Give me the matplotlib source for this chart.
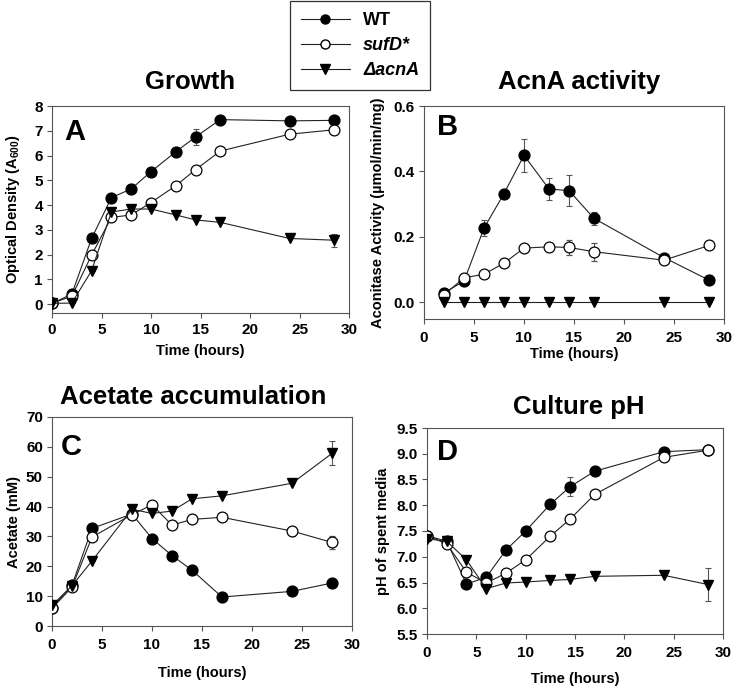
import matplotlib
matplotlib.use("Agg")
import matplotlib.pyplot as plt
from matplotlib.lines import Line2D

plt.rcParams['font.family'] = ['Liberation Sans', 'DejaVu Sans']
plt.rcParams['font.weight'] = 'bold'
plt.rcParams['mathtext.fontset'] = 'custom'
plt.rcParams['mathtext.bf'] = 'Liberation Sans:bold'
plt.rcParams['mathtext.rm'] = 'Liberation Sans:bold'

# ---------------- data ----------------
series_labels = ["WT", "sufD*", "\u0394acnA"]

# A: Growth (OD600)
tA = [0, 2, 4, 6, 8, 10, 12.5, 14.5, 17, 24, 28.5]
wtA = [0.03, 0.4, 2.65, 4.3, 4.65, 5.35, 6.15, 6.75, 7.45, 7.4, 7.42]
wtA_err = [0, 0, 0.05, 0.1, 0.2, 0.1, 0.1, 0.33, 0.12, 0.08, 0.08]
sufA = [0.04, 0.31, 1.98, 3.5, 3.6, 4.1, 4.78, 5.43, 6.18, 6.86, 7.04]
sufA_err = [0, 0, 0, 0.05, 0.05, 0.05, 0.05, 0.05, 0.12, 0.05, 0.15]
acnA_A = [0.03, 0.04, 1.35, 3.72, 3.84, 3.84, 3.6, 3.4, 3.3, 2.65, 2.58]
acnA_A_err = [0, 0, 0, 0, 0, 0, 0, 0, 0, 0, 0.27]

# B: AcnA activity
tB = [2, 4, 6, 8, 10, 12.5, 14.5, 17, 24, 28.5]
wtB = [0.028, 0.064, 0.226, 0.332, 0.449, 0.346, 0.341, 0.256, 0.136, 0.067]
wtB_err = [0.005, 0.005, 0.025, 0.005, 0.05, 0.035, 0.048, 0.02, 0.012, 0.005]
sufB = [0.022, 0.074, 0.085, 0.119, 0.165, 0.169, 0.167, 0.154, 0.128, 0.173]
sufB_err = [0, 0, 0, 0, 0, 0, 0.022, 0.027, 0, 0]
acnB = [0, 0, 0, 0, 0, 0, 0, 0, 0, 0]
acnB_err = [0, 0, 0, 0, 0, 0, 0, 0, 0, 0]

# C: Acetate (mM)
tC = [0, 2, 4, 8, 10, 12, 14, 17, 24, 28]
wtC = [6.1, 13.6, 32.7, 37.5, 29.3, 23.6, 18.7, 9.7, 11.6, 14.4]
wtC_err = [0, 0, 0, 0, 0, 0, 0, 0, 0, 0]
sufC = [5.9, 13.0, 29.8, 37.3, 40.6, 33.8, 35.7, 36.4, 31.8, 28.0]
sufC_err = [0, 0, 0, 0, 0, 0, 0, 0, 1.5, 2.2]
acnC = [6.9, 13.5, 21.8, 39.1, 37.7, 38.5, 42.6, 43.6, 47.8, 57.8]
acnC_err = [0, 0, 0, 0, 0, 0, 0, 0, 0, 4.0]

# D: Culture pH
tD = [0, 2, 4, 6, 8, 10, 12.5, 14.5, 17, 24, 28.5]
wtD = [7.41, 7.3, 6.47, 6.6, 7.13, 7.5, 8.02, 8.36, 8.66, 9.04, 9.08]
wtD_err = [0, 0, 0, 0, 0, 0, 0, 0.19, 0.07, 0, 0]
sufD_D = [7.41, 7.25, 6.7, 6.49, 6.68, 6.94, 7.4, 7.73, 8.21, 8.93, 9.07]
sufD_D_err = [0, 0, 0, 0, 0, 0, 0, 0, 0, 0, 0]
acnD = [7.35, 7.3, 6.94, 6.38, 6.49, 6.51, 6.54, 6.56, 6.62, 6.64, 6.46]
acnD_err = [0, 0, 0, 0, 0, 0, 0, 0, 0, 0, 0.32]

# ---------------- figure ----------------
W, H = 732, 688
fig = plt.figure(figsize=(W / 100, H / 100), dpi=100)

def rect(l, r, t, b):
    return [l / W, 1 - b / H, (r - l) / W, (b - t) / H]

axA = fig.add_axes(rect(52, 349, 106, 313))
axB = fig.add_axes(rect(424, 724, 106, 319))
axC = fig.add_axes(rect(52, 352, 417, 626))
axD = fig.add_axes(rect(427, 723, 428, 634))

LINE = '#222222'
SPINE = '#555555'
MS = 7.8

def draw(ax, t, wt, wte, suf, sufe, acn, acne):
    ax.errorbar(t, wt, yerr=wte, fmt='o-', color=LINE, lw=0.8, ms=MS,
                mfc='black', mec='black', ecolor='#555555', elinewidth=0.8,
                capsize=2.5, capthick=0.8, zorder=3)
    ax.errorbar(t, suf, yerr=sufe, fmt='o-', color=LINE, lw=0.8, ms=MS,
                mfc='white', mec='black', mew=0.9, ecolor='#555555',
                elinewidth=0.8, capsize=2.5, capthick=0.8, zorder=4)
    ax.errorbar(t, acn, yerr=acne, fmt='v-', color=LINE, lw=0.8, ms=MS,
                mfc='black', mec='black', ecolor='#555555', elinewidth=0.8,
                capsize=2.5, capthick=0.8, zorder=5)

draw(axA, tA, wtA, wtA_err, sufA, sufA_err, acnA_A, acnA_A_err)
draw(axB, tB, wtB, wtB_err, sufB, sufB_err, acnB, acnB_err)
draw(axC, tC, wtC, wtC_err, sufC, sufC_err, acnC, acnC_err)
draw(axD, tD, wtD, wtD_err, sufD_D, sufD_D_err, acnD, acnD_err)

axA.set_ylim(-0.36, 8)
axA.set_yticks(range(0, 9))
axB.set_ylim(-0.052, 0.6)
axB.set_yticks([0.0, 0.2, 0.4, 0.6])
axB.set_yticklabels(["0.0", "0.2", "0.4", "0.6"])
axC.set_ylim(0, 70)
axC.set_yticks(range(0, 71, 10))
axD.set_ylim(5.5, 9.5)
axD.set_yticks([5.5, 6.0, 6.5, 7.0, 7.5, 8.0, 8.5, 9.0, 9.5])
axD.set_yticklabels(["5.5", "6.0", "6.5", "7.0", "7.5", "8.0", "8.5", "9.0", "9.5"])

for ax in (axA, axB, axC, axD):
    ax.set_xlim(0, 30)
    ax.set_xticks(range(0, 31, 5))
    for s in ax.spines.values():
        s.set_color(SPINE)
        s.set_linewidth(0.8)
    ax.tick_params(direction='out', length=3.5, width=0.8, color=SPINE,
                   labelsize=11, pad=3)
    for lbl in ax.get_xticklabels() + ax.get_yticklabels():
        lbl.set_fontweight('bold')

axA.tick_params(axis='x', pad=4)
axB.tick_params(axis='x', pad=5)
axC.tick_params(axis='x', pad=5)
axD.tick_params(axis='x', pad=5)

# axis labels
lab_kw = dict(fontsize=10.5, fontweight='bold')
axA.set_xlabel("Time (hours)", labelpad=5, **lab_kw)
axB.set_xlabel("Time (hours)", labelpad=1.5, **lab_kw)
axC.set_xlabel("Time (hours)", labelpad=10, **lab_kw)
axD.set_xlabel("Time (hours)", labelpad=9, **lab_kw)

axA.set_ylabel("Optical Density (A$_{\\mathbf{600}}$)", **lab_kw)
axB.set_ylabel("Aconitase Activity (\u00b5mol/min/mg)", **lab_kw)
axC.set_ylabel("Acetate (mM)", **lab_kw)
axD.set_ylabel("pH of spent media", **lab_kw)
axA.yaxis.set_label_coords((22 - 52) / 297, 0.5)
axB.yaxis.set_label_coords((385 - 424) / 300, 0.5)
axC.yaxis.set_label_coords((21 - 52) / 300, 0.5)
axD.yaxis.set_label_coords((390 - 427) / 296, 0.5)

# panel letters
let_kw = dict(fontsize=21, fontweight='bold', ha='left', va='center')
fig.text(64 / W, 1 - 132 / H, "A", **let_kw)
fig.text(437 / W, 1 - 127 / H, "B", **let_kw)
fig.text(61 / W, 1 - 447 / H, "C", **let_kw)
fig.text(437 / W, 1 - 452 / H, "D", **let_kw)

# titles
tit_kw = dict(fontsize=18.5, fontweight='bold', ha='center', va='center')
fig.text(190 / W, 1 - 82 / H, "Growth", **tit_kw)
fig.text(579 / W, 1 - 82 / H, "AcnA activity", **tit_kw)
fig.text(193 / W, 1 - 397 / H, "Acetate accumulation", **tit_kw)
fig.text(579 / W, 1 - 407 / H, "Culture pH", **tit_kw)

# legend
handles = [
    Line2D([], [], color=LINE, lw=0.8, marker='o', ms=6.5, mfc='black', mec='black'),
    Line2D([], [], color=LINE, lw=0.8, marker='o', ms=6.5, mfc='white', mec='black'),
    Line2D([], [], color=LINE, lw=0.8, marker='v', ms=6.5, mfc='black', mec='black'),
]
leg = fig.legend(handles, series_labels,
                 loc='upper left', bbox_to_anchor=(290 / W, 1 - 1 / H),
                 frameon=True, fancybox=False, edgecolor='black',
                 prop=dict(size=13, weight='bold'), handlelength=2.7,
                 handletextpad=0.75, labelspacing=0.45, borderpad=0.6,
                 borderaxespad=0)
leg.get_frame().set_linewidth(0.9)
for txt in leg.get_texts()[1:]:
    txt.set_fontstyle('italic')

fig.savefig("out.png", dpi=100)
